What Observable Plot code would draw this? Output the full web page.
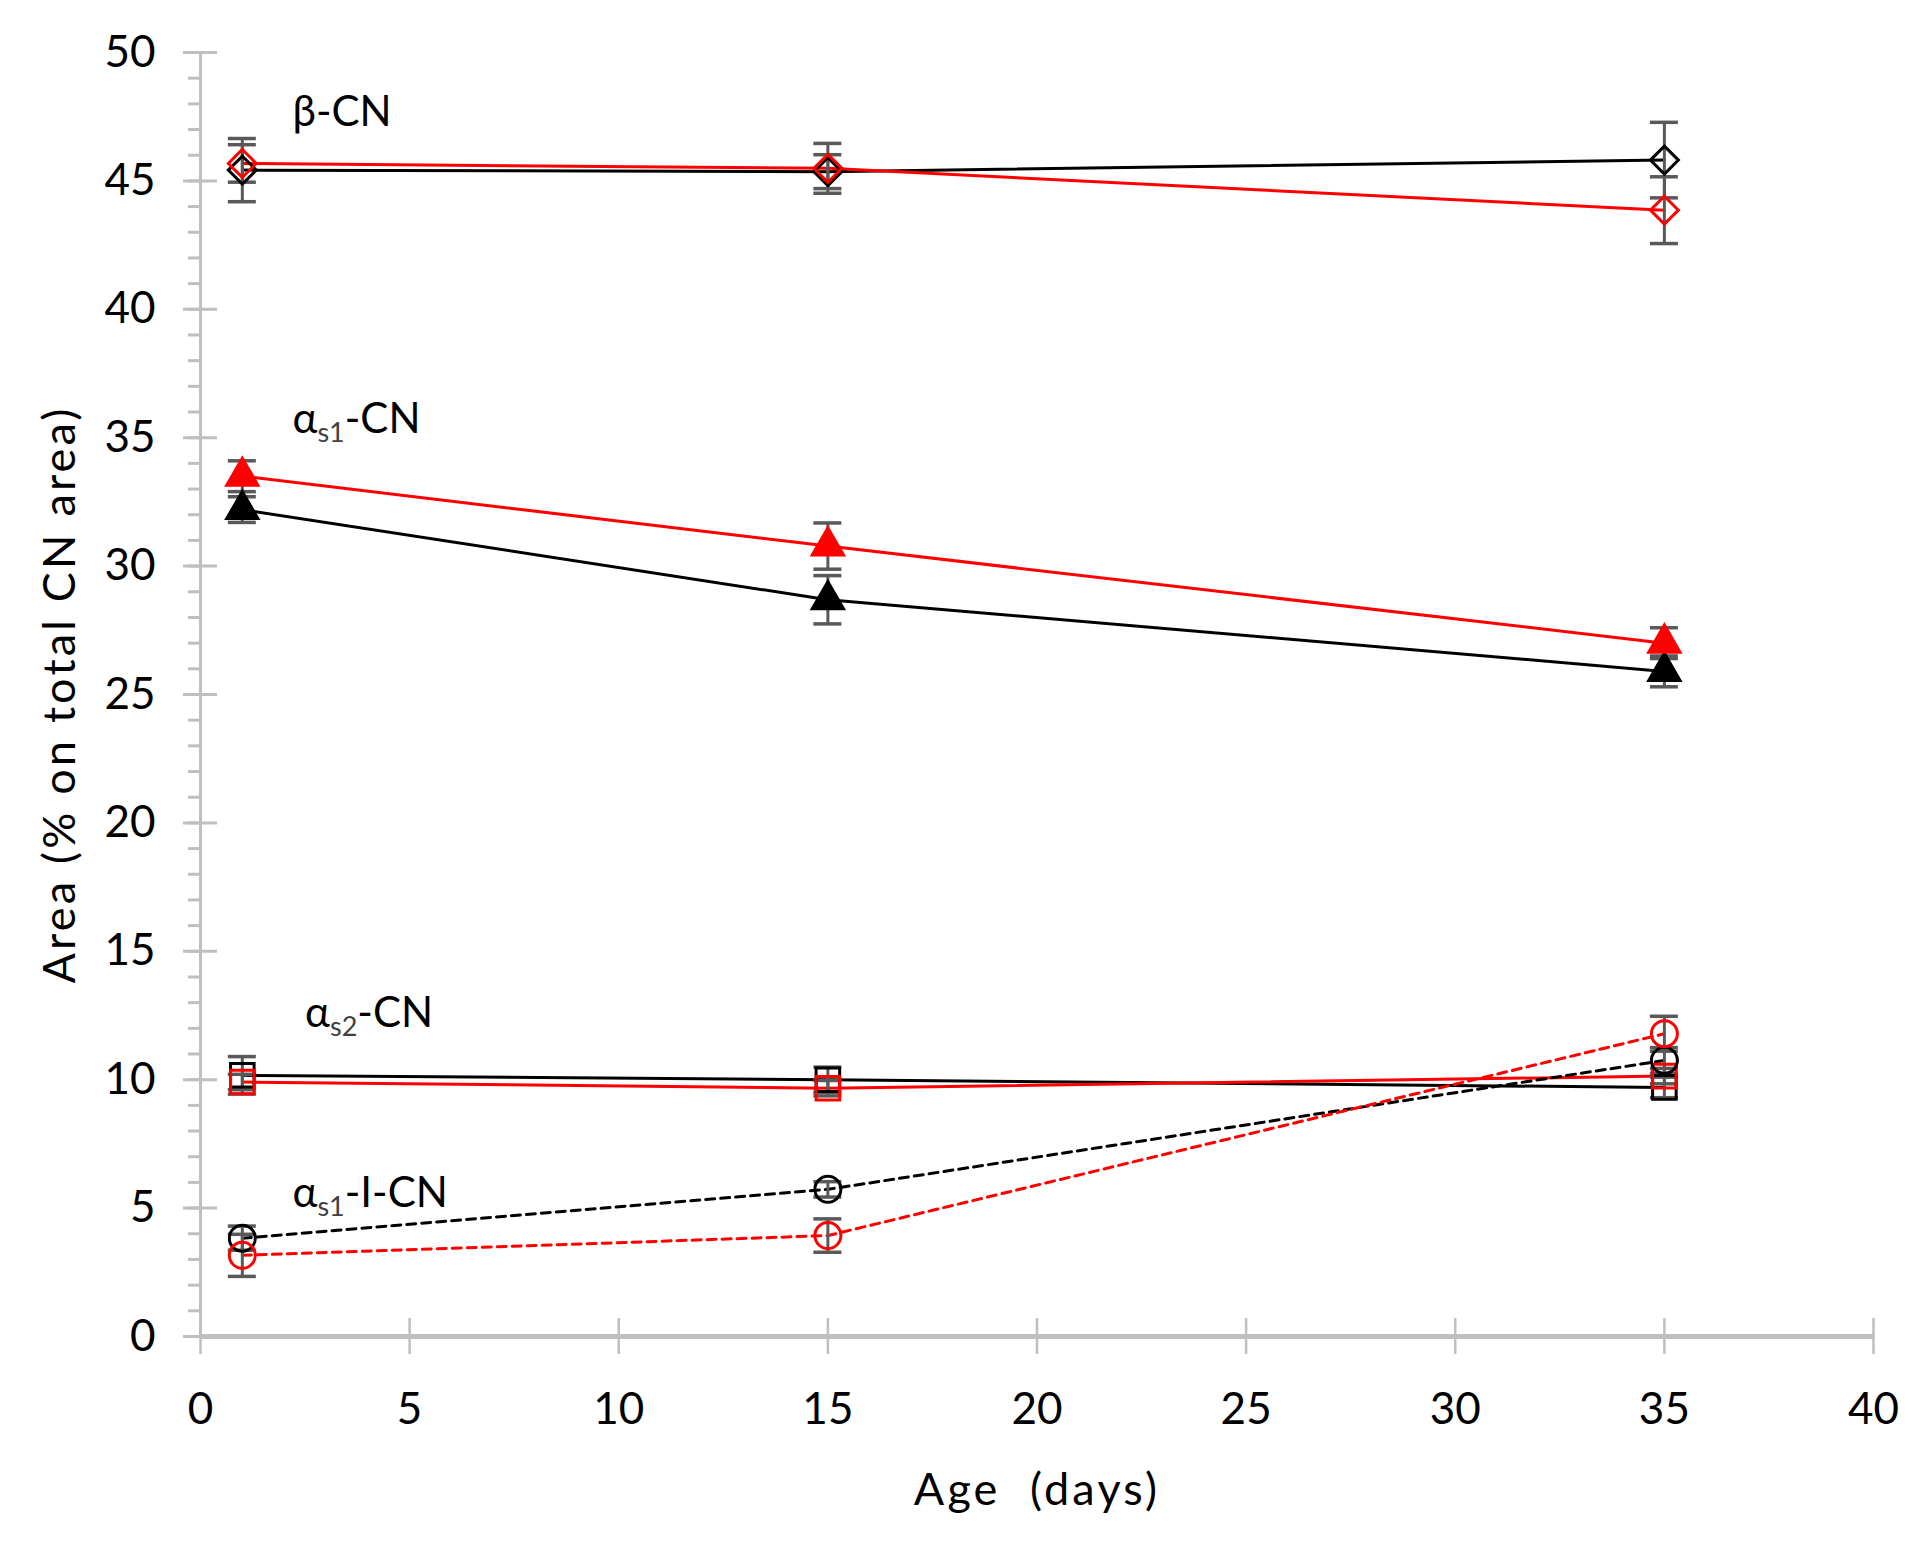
<!DOCTYPE html>
<html>
<head>
<meta charset="utf-8">
<script src="https://cdn.jsdelivr.net/npm/d3@7"></script>
<script src="https://cdn.jsdelivr.net/npm/@observablehq/plot@0.6"></script>
<style>
  html, body { margin: 0; padding: 0; background: #fff; }
  .ttl text { letter-spacing: 3.2px; }
</style>
</head>
<body>
<div id="chart"></div>
<script>
// ---- data ----
const days = [1, 15, 35];

const betaBlack = [45.42, 45.36, 45.81];
const betaBlackErr = [1.23, 0.66, 1.47];
const betaRed = [45.68, 45.49, 43.86];
const betaRedErr = [0.73, 0.97, 1.30];

const as1Black = [32.2, 28.69, 25.9];
const as1BlackErr = [0.5, 0.94, 0.6];
const as1Red = [33.5, 30.78, 27.0];
const as1RedErr = [0.6, 0.9, 0.6];

const as2Black = [10.17, 10.0, 9.7];
const as2BlackErr = [0.73, 0.49, 0.4];
const as2Red = [9.91, 9.67, 10.14];
const as2RedErr = [0.3, 0.3, 0.3];

const as1IBlack = [3.83, 5.73, 10.75];
const as1IBlackErr = [0.47, 0.3, 0.5];
const as1IRed = [3.16, 3.93, 11.79];
const as1IRedErr = [0.82, 0.65, 0.68];

const xTicks = [0, 5, 10, 15, 20, 25, 30, 35, 40];
const yTicks = [0, 5, 10, 15, 20, 25, 30, 35, 40, 45, 50];
const yMinor = d3.range(0, 51, 1);

// annotation labels: [main, subscript, rest]
const labels = [
  {x: 2.2, y: 47.15, parts: ["β-CN", "", ""]},
  {x: 2.2, y: 35.2, parts: ["α", "s1", "-CN"]},
  {x: 2.5, y: 12.05, parts: ["α", "s2", "-CN"]},
  {x: 2.2, y: 5.05, parts: ["α", "s1", "-I-CN"]}
];

// ---- build series ----
const BLACK = "#000000", RED = "#ff0000";
function mk(name, vals, errs, color, symbol, r, fill, dash) {
  return {name, color, symbol, r, fill, dash,
    rows: days.map((d, i) => ({day: d, value: vals[i], err: errs[i]}))};
}
const series = [
  mk("beta-black", betaBlack, betaBlackErr, BLACK, "diamond2", 12.6, "none", null),
  mk("beta-red", betaRed, betaRedErr, RED, "diamond2", 12.6, "none", null),
  mk("as1-black", as1Black, as1BlackErr, BLACK, "triangle", 11.6, BLACK, null),
  mk("as1-red", as1Red, as1RedErr, RED, "triangle", 11.6, RED, null),
  mk("as2-black", as2Black, as2BlackErr, BLACK, "square2", 15, "none", null),
  mk("as2-red", as2Red, as2RedErr, RED, "square2", 15, "none", null),
  mk("as1I-black", as1IBlack, as1IBlackErr, BLACK, "circle", 13, "none", "9,6"),
  mk("as1I-red", as1IRed, as1IRedErr, RED, "circle", 13, "none", "9,6")
];
const allRows = series.flatMap(s => s.rows);

const AXIS = "#bfbfbf", ERR = "#595959";
const FONT = "Lato, 'Liberation Sans', sans-serif";

const marks = [
  // axis lines
  Plot.ruleX([0], {stroke: AXIS, strokeWidth: 3}),
  Plot.ruleY([0], {stroke: AXIS, strokeWidth: 5}),
  // y minor ticks (left only)
  Plot.ruleY(yMinor, {y: d => d, x1: 0, x2: 0, insetLeft: -12, insetRight: 0, stroke: AXIS, strokeWidth: 3}),
  // y major ticks (cross)
  Plot.ruleY(yTicks, {y: d => d, x1: 0, x2: 0, insetLeft: -17, insetRight: -17, stroke: AXIS, strokeWidth: 3}),
  // x major ticks (cross)
  Plot.ruleX(xTicks, {x: d => d, y1: 0, y2: 0, insetTop: -18, insetBottom: -18, stroke: AXIS, strokeWidth: 2.5}),
  Plot.axisX({ticks: xTicks, tickSize: 0, tickPadding: 56, fontSize: 44, label: null}),
  Plot.axisY({ticks: yTicks, tickSize: 0, tickPadding: 45, fontSize: 44, label: null}),
  // axis titles
  Plot.text(["Area (% on total CN area)"], {frameAnchor: "left", text: d => d, rotate: -90, dx: -140,
    textAnchor: "middle", lineAnchor: "middle", fontSize: 45, fill: "#000", className: "ttl"}),
  Plot.text(["Age  (days)"], {frameAnchor: "bottom", text: d => d, dy: 168, textAnchor: "middle",
    lineAnchor: "bottom", fontSize: 45, fill: "#000", className: "ttl"})
];

// lines
for (const s of series) {
  marks.push(Plot.line(s.rows, {x: "day", y: "value", stroke: s.color, strokeWidth: 3,
    strokeDasharray: s.dash || undefined}));
}
// error bars
marks.push(Plot.ruleX(allRows, {x: "day", y1: d => d.value - d.err, y2: d => d.value + d.err, stroke: ERR, strokeWidth: 3}));
marks.push(Plot.ruleY(allRows, {x1: "day", x2: "day", y: d => d.value + d.err, insetLeft: -14, insetRight: -14, stroke: ERR, strokeWidth: 3.5}));
marks.push(Plot.ruleY(allRows, {x1: "day", x2: "day", y: d => d.value - d.err, insetLeft: -14, insetRight: -14, stroke: ERR, strokeWidth: 3.5}));
// markers
for (const s of series) {
  marks.push(Plot.dot(s.rows, {x: "day", y: "value", symbol: s.symbol, r: s.r,
    stroke: s.color, fill: s.fill, strokeWidth: 3}));
}
// annotations
marks.push(Plot.text(labels, {x: "x", y: "y", text: d => d.parts.join(""), textAnchor: "start",
  lineAnchor: "bottom", fontSize: 42, fill: "#000", className: "anno"}));

const chart = Plot.plot({
  width: 1932,
  height: 1550,
  marginLeft: 200,
  marginRight: 59,
  marginTop: 52,
  marginBottom: 214,
  x: {domain: [0, 40]},
  y: {domain: [0, 50]},
  style: {fontFamily: FONT, fontSize: "44px", color: "#000", background: "#fff"},
  marks
});

// rebuild annotation texts with subscripts
d3.select(chart).selectAll(".anno text").each(function(_, i) {
  const p = labels[i].parts;
  const t = d3.select(this);
  t.text(null);
  t.append("tspan").text(p[0]);
  if (p[1]) {
    t.append("tspan").attr("dy", 9).attr("font-size", 27).attr("fill", "#404040").text(p[1]);
    t.append("tspan").attr("dy", -9).text(p[2]);
  }
});

document.getElementById("chart").appendChild(chart);
</script>
</body>
</html>
